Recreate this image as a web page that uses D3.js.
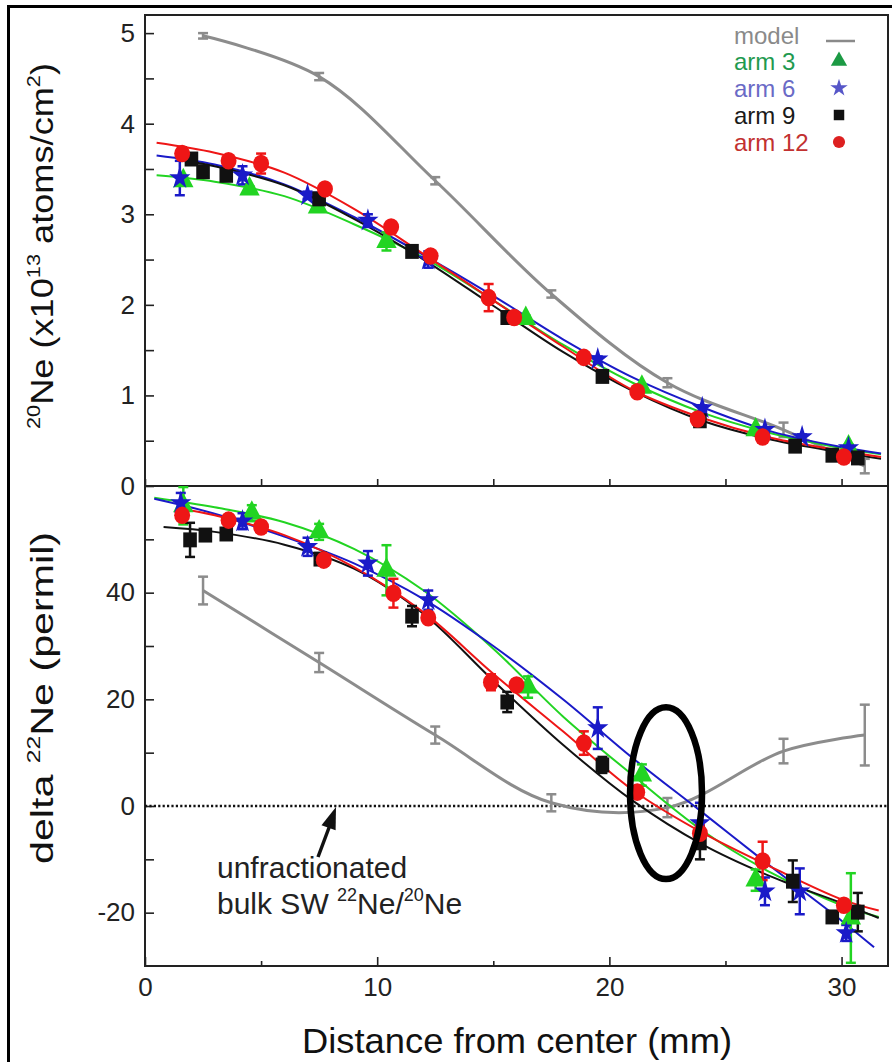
<!DOCTYPE html>
<html><head><meta charset="utf-8">
<script src="https://cdn.jsdelivr.net/npm/d3@7"></script>
<style>
body{margin:0;background:#fff}
svg{display:block}
text{font-family:"Liberation Sans",Arial,Helvetica,sans-serif}
</style>
</head><body>
<svg id="c" width="892" height="1062"></svg>
<script>
// ---------- data ----------
const xTicks = [0, 10, 20, 30];
const xMinor = [5, 15, 25];
const topTicks = [0, 1, 2, 3, 4, 5];
const topMinor = [0.5, 1.5, 2.5, 3.5, 4.5];
const botTicks = [-20, 0, 20, 40];
const botMinor = [-10, 10, 30, 50];

const seriesNames = ["arm 3", "arm 6", "arm 9", "arm 12"];

// top panel: 20Ne (x10^13 atoms/cm2)  [distance, value, error]
const modelTop = [[2.5,4.97,0.03],[7.5,4.52,0.04],[12.5,3.37,0.04],[17.5,2.12,0.04],[22.5,1.14,0.05],[27.5,0.62,0.08],[31,0.22,0.08]];
const arm3Top  = [[1.65,3.37,0.05],[4.5,3.28,0.03],[7.45,3.08,0.03],[10.4,2.70,0.10],[16.4,1.85,0.03],[21.4,1.09,0.03],[26.3,0.62,0.03],[30.3,0.43,0.03]];
const arm6Top  = [[1.5,3.40,0.19],[4.2,3.43,0.10],[7.0,3.21,0.04],[9.6,2.93,0.07],[12.2,2.50,0.09],[19.5,1.40,0.03],[24.0,0.86,0.03],[26.7,0.62,0.03],[28.3,0.54,0.03],[30.3,0.42,0.03]];
const arm9Top  = [[2.0,3.61,0.03],[2.5,3.47,0.03],[3.5,3.43,0.03],[7.5,3.17,0.03],[11.5,2.59,0.03],[15.6,1.86,0.03],[19.7,1.21,0.03],[23.9,0.72,0.03],[28.0,0.44,0.03],[29.6,0.34,0.03],[30.7,0.31,0.03]];
const arm12Top = [[1.6,3.67,0.07],[3.6,3.59,0.03],[5.0,3.56,0.11],[7.75,3.28,0.03],[10.6,2.86,0.03],[12.3,2.54,0.03],[14.8,2.08,0.15],[15.9,1.86,0.03],[18.9,1.42,0.03],[21.2,1.04,0.03],[23.8,0.74,0.03],[26.6,0.54,0.03],[30.1,0.32,0.03]];
// fitted curves (top) [distance, value]
const fit3Top  = [[0.5,3.43],[3,3.36],[6,3.20],[9,2.89],[12,2.52],[15,2.05],[18,1.56],[21,1.14],[24,0.81],[27,0.58],[30,0.42],[31.7,0.35]];
const fit6Top  = [[0.5,3.65],[3,3.55],[6,3.33],[9,2.97],[12,2.55],[15,2.10],[18,1.62],[21,1.20],[24,0.87],[27,0.60],[30,0.43],[31.7,0.36]];
const fit9Top  = [[2,3.58],[3,3.53],[6,3.32],[9,2.95],[12,2.50],[15,1.99],[18,1.48],[21,1.05],[24,0.72],[27,0.51],[30,0.37],[31.7,0.30]];
const fit12Top = [[0.5,3.79],[3,3.68],[6,3.46],[9,3.06],[12,2.56],[15,2.05],[18,1.54],[21,1.06],[24,0.75],[27,0.53],[30,0.39],[31.7,0.32]];

// bottom panel: delta 22Ne (permil) [distance, value, error]
const modelBot = [[2.5,40.4,2.6],[7.5,26.9,1.8],[12.5,13.3,1.6],[17.5,0.6,1.6],[22.5,-0.3,1.8],[27.5,10.3,2.3],[31,13.3,5.7]];
const arm3Bot  = [[1.65,56.3,3.5],[4.6,54.9,1.5],[7.5,51.4,1.5],[10.4,44.2,4.7],[16.5,22.3,2],[21.4,5.8,2],[26.3,-13.9,2],[30.4,-21.0,8.4]];
const arm6Bot  = [[1.54,56.8,1.9],[4.2,53.4,1.5],[7.0,48.6,1.7],[9.6,45.5,2.3],[12.2,38.6,1.8],[19.5,14.6,3.9],[23.9,-3.2,3.8],[26.7,-16.0,2.6],[28.2,-16.0,4.3],[30.2,-23.8,1.5]];
const arm9Bot  = [[1.94,49.9,3.2],[2.6,50.8,1],[3.5,51.0,1],[7.55,46.3,1],[11.5,35.6,1.9],[15.6,19.5,1.9],[19.7,7.7,1.5],[23.9,-6.9,3.1],[27.9,-14.1,3.9],[29.6,-20.8,1],[30.7,-19.9,3.6]];
const arm12Bot = [[1.6,54.5,1],[3.6,53.6,1],[5.0,52.3,1],[7.7,46.1,1],[10.7,39.9,2.7],[12.2,35.3,1],[14.9,23.2,1.5],[16.0,22.7,1],[18.9,11.8,2.2],[21.2,2.6,1],[23.9,-5.1,1.5],[26.6,-10.3,3.6],[30.1,-18.6,1]];
const fit3Bot  = [[0.4,57.8],[3,56.0],[6,53.2],[9,48.2],[12,40.4],[15,29.5],[18,16.8],[21,5.8],[24,-4.6],[27,-12.6],[30,-18.6],[31.6,-20.8]];
const fit6Bot  = [[0.4,57.6],[3,54.8],[6,50.5],[9,45.5],[12,38.8],[15,30.0],[18,20.0],[21,9.0],[24,-1.2],[27,-11.5],[30,-21.5],[31.4,-26.5]];
const fit9Bot  = [[0.8,52.3],[3,51.4],[6,49.0],[9,44.5],[12,36.0],[15,23.5],[18,11.5],[21,1.0],[24,-7.2],[27,-13.3],[30,-18.2],[31.6,-21.0]];
const fit12Bot = [[1.5,55.8],[3,54.5],[6,50.8],[9,44.8],[12,36.3],[15,24.8],[18,14.0],[21,3.0],[24,-5.0],[27,-11.5],[30,-17.5],[31.6,-19.6]];

// ---------- layout ----------
const svg = d3.select("#c");
const L = 145, R = 888, T = 15, MID = 486, B = 966;
const x = d3.scaleLinear().domain([0, 32]).range([L, R]);
const yTop = d3.scaleLinear().domain([0, 5.2]).range([MID, T]);
const yBot = d3.scaleLinear().domain([-30, 60]).range([B, MID]);

const col = {model:"#8c8c8c", a3:"#22d422", a6:"#1a1ac8", a9:"#111111", a12:"#ee1616"};
const FONT = 26;
const fmt = d => String(d);

// outer figure frame
svg.append("line").attr("x1",7).attr("x2",892).attr("y1",6.5).attr("y2",6.5).attr("stroke","#000").attr("stroke-width",3);
svg.append("line").attr("x1",8.5).attr("x2",8.5).attr("y1",5).attr("y2",1062).attr("stroke","#000").attr("stroke-width",3);

// clip paths
const defs = svg.append("defs");
defs.append("clipPath").attr("id","clipTop").append("rect").attr("x",L).attr("y",T).attr("width",R-L).attr("height",MID-T);
defs.append("clipPath").attr("id","clipBot").append("rect").attr("x",L).attr("y",MID).attr("width",R-L).attr("height",B-MID);

// axes
function styleAxis(g){
  g.select(".domain").remove();
  g.selectAll(".tick line").attr("stroke","#222").attr("stroke-width",1.6);
  g.selectAll(".tick text").attr("font-size",FONT).attr("fill","#222").attr("font-family",'"Liberation Sans",Arial,sans-serif');
}
svg.append("g").attr("transform",`translate(${L},0)`)
  .call(d3.axisLeft(yTop).tickValues(topTicks).tickSize(-9).tickPadding(10).tickFormat(fmt)).call(styleAxis);
svg.append("g").attr("transform",`translate(${L},0)`)
  .call(d3.axisLeft(yTop).tickValues(topMinor).tickSize(-9).tickFormat("")).call(styleAxis);
svg.append("g").attr("transform",`translate(${L},0)`)
  .call(d3.axisLeft(yBot).tickValues(botTicks).tickSize(-9).tickPadding(10).tickFormat(fmt)).call(styleAxis);
svg.append("g").attr("transform",`translate(${L},0)`)
  .call(d3.axisLeft(yBot).tickValues(botMinor).tickSize(-9).tickFormat("")).call(styleAxis);
svg.append("g").attr("transform",`translate(0,${MID})`)
  .call(d3.axisBottom(x).tickValues(xTicks.concat(xMinor)).tickSize(-7).tickFormat("")).call(styleAxis);
svg.append("g").attr("transform",`translate(0,${B})`)
  .call(d3.axisBottom(x).tickValues(xTicks).tickSize(-9).tickPadding(12).tickFormat(fmt)).call(styleAxis);
svg.append("g").attr("transform",`translate(0,${B})`)
  .call(d3.axisBottom(x).tickValues(xMinor).tickSize(-5).tickFormat("")).call(styleAxis);

// frames
svg.append("rect").attr("x",L).attr("y",T).attr("width",R-L).attr("height",B-T).attr("fill","none").attr("stroke","#222").attr("stroke-width",2);
svg.append("line").attr("x1",L).attr("x2",R).attr("y1",MID).attr("y2",MID).attr("stroke","#222").attr("stroke-width",2);

// zero reference dotted line
svg.append("line").attr("x1",x(0)).attr("x2",x(32)).attr("y1",yBot(0)).attr("y2",yBot(0))
  .attr("stroke","#111").attr("stroke-width",2.5).attr("stroke-dasharray","2.2,2.2");

// ---------- marks ----------
const curve = d3.curveCatmullRom.alpha(0.5);
function drawLine(g, data, ys, color, w){
  g.append("path").datum(data)
    .attr("d", d3.line().x(d=>x(d[0])).y(d=>ys(d[1])).curve(curve))
    .attr("fill","none").attr("stroke",color).attr("stroke-width",w).attr("stroke-linejoin","round");
}
function drawErr(g, data, ys, color, w, cap){
  const e = g.append("g").attr("stroke",color).attr("stroke-width",w);
  data.forEach(d=>{
    const cx = x(d[0]), y1 = ys(d[1]-d[2]), y2 = ys(d[1]+d[2]);
    e.append("line").attr("x1",cx).attr("x2",cx).attr("y1",y1).attr("y2",y2);
    e.append("line").attr("x1",cx-cap).attr("x2",cx+cap).attr("y1",y1).attr("y2",y1);
    e.append("line").attr("x1",cx-cap).attr("x2",cx+cap).attr("y1",y2).attr("y2",y2);
  });
}
const symMap = {a3:d3.symbolTriangle, a6:d3.symbolStar, a9:d3.symbolSquare, a12:d3.symbolCircle};
const symSize = {a3:180, a6:140, a9:185, a12:200};
function drawPts(g, data, ys, key){
  g.selectAll(null).data(data).enter().append("path")
    .attr("d", d3.symbol().type(symMap[key]).size(symSize[key]))
    .attr("transform", d=>`translate(${x(d[0])},${ys(d[1])}) scale(1,1.1)`)
    .attr("fill", col[key]);
}

function panel(clipId, ys, model, arms, fits){
  const g = svg.append("g").attr("clip-path",`url(#${clipId})`);
  drawLine(g, model, ys, col.model, 3);
  drawErr(g, model, ys, col.model, 2.5, 5);
  const keys = ["a3","a6","a9","a12"];
  keys.forEach((k,i)=>drawLine(g, fits[i], ys, col[k], 2));
  keys.forEach((k,i)=>{ drawErr(g, arms[i], ys, col[k], 2.5, 5); });
  keys.forEach((k,i)=>{ drawPts(g, arms[i], ys, k); });
}
panel("clipTop", yTop, modelTop, [arm3Top,arm6Top,arm9Top,arm12Top], [fit3Top,fit6Top,fit9Top,fit12Top]);
panel("clipBot", yBot, modelBot, [arm3Bot,arm6Bot,arm9Bot,arm12Bot], [fit3Bot,fit6Bot,fit9Bot,fit12Bot]);

// highlighted ellipse
const ell = {cx:22.44, cy:2.4, rxmm:1.55, ry:16.1};
svg.append("ellipse").attr("cx",x(ell.cx)).attr("cy",yBot(ell.cy))
  .attr("rx",x(ell.cx+ell.rxmm)-x(ell.cx)).attr("ry",yBot(0)-yBot(ell.ry))
  .attr("fill","none").attr("stroke","#000").attr("stroke-width",6.5);

// ---------- text ----------
function richText(parent, parts, fs, attrs){
  const t = parent.append("text").attr("font-size",fs);
  Object.entries(attrs||{}).forEach(([k,v])=>t.attr(k,v));
  let raised = false;
  parts.forEach(p=>{
    const s = t.append("tspan").text(p.t);
    if(p.sup){ s.attr("font-size",fs*0.6).attr("dy",raised?0:-fs*0.42); raised = true; }
    else { if(raised){ s.attr("dy",fs*0.42); raised=false; } }
  });
  return t;
}

// y titles
richText(svg.append("g").attr("transform","translate(53,246) rotate(-90)"),
  [{t:"20",sup:true},{t:"Ne (x10"},{t:"13",sup:true},{t:" atoms/cm"},{t:"2",sup:true},{t:")"}],
  31, {"text-anchor":"middle","fill":"#111","textLength":366,"lengthAdjust":"spacingAndGlyphs"});
richText(svg.append("g").attr("transform","translate(53,698) rotate(-90)"),
  [{t:"delta "},{t:"22",sup:true},{t:"Ne (permil)"}],
  31, {"text-anchor":"middle","fill":"#111","textLength":332,"lengthAdjust":"spacingAndGlyphs"});
// x title
svg.append("text").attr("x",517).attr("y",1053).attr("text-anchor","middle").attr("font-size",35).attr("fill","#111")
  .attr("textLength",430).attr("lengthAdjust","spacingAndGlyphs")
  .text("Distance from center (mm)");

// annotation
svg.append("text").attr("x",217).attr("y",878).attr("font-size",30).attr("fill","#222").text("unfractionated");
richText(svg, [{t:"bulk SW "},{t:"22",sup:true},{t:"Ne/"},{t:"20",sup:true},{t:"Ne"}], 30, {x:217,y:914,fill:"#222"});
// arrow
const ax0 = 318, ay0 = 857, ax1 = 336, ay1 = 807;
svg.append("line").attr("x1",ax0).attr("y1",ay0).attr("x2",330).attr("y2",825).attr("stroke","#111").attr("stroke-width",3.5);
{
  const ang = Math.atan2(ay1-ay0, ax1-ax0);
  const len = 22, hw = 7.5;
  const bx = ax1 - len*Math.cos(ang), by = ay1 - len*Math.sin(ang);
  const px = -Math.sin(ang)*hw, py = Math.cos(ang)*hw;
  svg.append("path").attr("d",`M${ax1},${ay1}L${bx+px},${by+py}L${bx-px},${by-py}Z`).attr("fill","#111");
}

// legend
const legText = ["model"].concat(seriesNames);
const legTextCol = ["#8a8a8a","#1f9a50","#6a6ac6","#1a1a1a","#c23130"];
const legMarkCol = {a3:"#1c9a44", a6:"#5656c8", a9:"#111", a12:"#dd2020"};
const legY = [44, 70, 97, 124, 151];
legText.forEach((t,i)=>{
  svg.append("text").attr("x",734).attr("y",legY[i]).attr("font-size",24).attr("fill",legTextCol[i]).text(t);
});
svg.append("line").attr("x1",826).attr("x2",855).attr("y1",41).attr("y2",41).attr("stroke","#8a8a8a").attr("stroke-width",2.5);
["a3","a6","a9","a12"].forEach((k,i)=>{
  svg.append("path").attr("d",d3.symbol().type(symMap[k]).size(k==="a9"?110:(k==="a6"?95:115))())
    .attr("transform",`translate(839,${legY[i+1]-9})`).attr("fill",legMarkCol[k]);
});
</script>
</body></html>
